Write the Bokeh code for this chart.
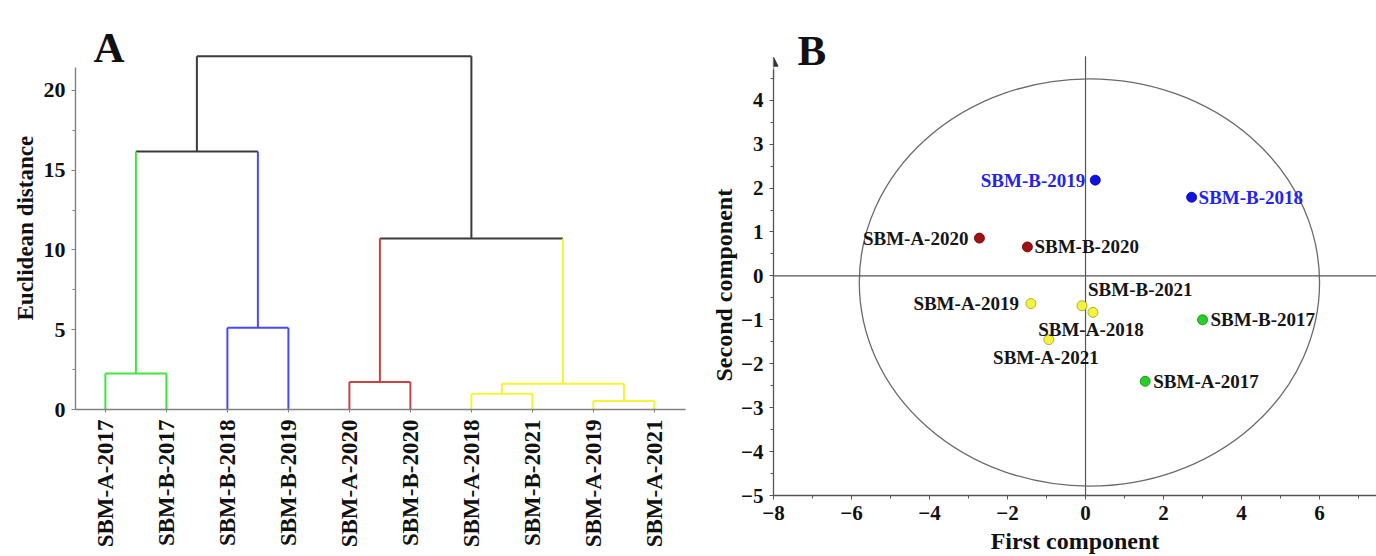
import numpy as np
from bokeh.plotting import figure
from bokeh.layouts import row
from bokeh.models import FixedTicker, Label, Span, Arrow, NormalHead, Range1d, Title
from bokeh.embed import file_html
from bokeh.resources import INLINE
from bokeh.core.properties import value

FONT = "Liberation Serif"

# ---------------- Panel A data (dendrogram) ----------------
leaf_names = ["SBM-A-2017", "SBM-B-2017", "SBM-B-2018", "SBM-B-2019", "SBM-A-2020",
              "SBM-B-2020", "SBM-A-2018", "SBM-B-2021", "SBM-A-2019", "SBM-A-2021"]
leaf_cluster = ["green", "green", "blue", "blue", "red", "red",
                "yellow", "yellow", "yellow", "yellow"]
# merges: node ids 0..9 are leaves, 10.. are merges in order
merge_left = [0, 2, 4, 6, 8, 13, 10, 12, 16]
merge_right = [1, 3, 5, 7, 9, 14, 11, 15, 17]
merge_height = [2.26, 5.12, 1.72, 0.99, 0.53, 1.62, 16.18, 10.72, 22.15]
dist_ticks = [0, 5, 10, 15, 20]

# ---------------- Panel B data (PCA scores) ----------------
pca_names = ["SBM-B-2019", "SBM-B-2018", "SBM-A-2020", "SBM-B-2020", "SBM-A-2019",
             "SBM-B-2021", "SBM-A-2018", "SBM-A-2021", "SBM-B-2017", "SBM-A-2017"]
pc1 = [0.25, 2.72, -2.72, -1.49, -1.40, -0.09, 0.19, -0.94, 3.00, 1.53]
pc2 = [2.18, 1.79, 0.86, 0.66, -0.63, -0.68, -0.83, -1.45, -1.00, -2.40]
pca_group = ["blue", "blue", "red", "red", "yellow", "yellow", "yellow", "yellow",
             "green", "green"]
ellipse_cx, ellipse_cy = 0.10, -0.15
ellipse_w, ellipse_h = 11.8, 9.27
pc1_ticks = [-8, -6, -4, -2, 0, 2, 4, 6]
pc2_ticks = [-5, -4, -3, -2, -1, 0, 1, 2, 3, 4]

# ---------------- styles ----------------
dendro_colors = {"green": "#3fe63f", "blue": "#4848ff", "red": "#c84444",
                 "yellow": "#f4f436", "black": "#3a3a3a"}
point_fill = {"blue": "#1010e8", "red": "#a01212", "yellow": "#f4f43c", "green": "#26d026"}
point_line = {"blue": "#0000a0", "red": "#600000", "yellow": "#9a9a20", "green": "#108010"}
label_color = {"blue": "#2323f0", "red": "#151515", "yellow": "#151515", "green": "#151515"}
# (align, x offset px, y offset px)
label_place = {
    "SBM-B-2019": ("right", -10, 0),
    "SBM-B-2018": ("left", 7, 0),
    "SBM-A-2020": ("right", -11, 0),
    "SBM-B-2020": ("left", 7, 0),
    "SBM-A-2019": ("right", -12, 0),
    "SBM-B-2021": ("left", 6, -16),
    "SBM-A-2018": ("center", -2, 17),
    "SBM-A-2021": ("center", -3, 18),
    "SBM-B-2017": ("left", 8, 0),
    "SBM-A-2017": ("left", 8, 0),
}

# ================= Panel A =================
pa = figure(width=690, height=556, output_backend="svg", toolbar_location=None,
            x_range=Range1d(-0.49, 9.51), y_range=Range1d(0, 25.64),
            min_border_left=75, min_border_right=5, min_border_top=0,
            min_border_bottom=147, frame_align=False)
pa.outline_line_color = None
pa.grid.visible = False
pa.background_fill_color = "white"
pa.border_fill_color = "white"

node_x = [float(i) for i in range(len(leaf_names))]
node_h = [0.0] * len(leaf_names)
node_c = list(leaf_cluster)
sx0, sy0, sx1, sy1, sc = [], [], [], [], []
for l, r, h in zip(merge_left, merge_right, merge_height):
    parent_c = node_c[l] if node_c[l] == node_c[r] else "black"
    xl, xr = node_x[l], node_x[r]
    sx0.append(xl); sy0.append(h); sx1.append(xr); sy1.append(h); sc.append(dendro_colors[parent_c])
    sx0.append(xl); sy0.append(node_h[l]); sx1.append(xl); sy1.append(h); sc.append(dendro_colors[node_c[l]])
    sx0.append(xr); sy0.append(node_h[r]); sx1.append(xr); sy1.append(h); sc.append(dendro_colors[node_c[r]])
    node_x.append((xl + xr) / 2)
    node_h.append(h)
    node_c.append(parent_c)

pa.segment(x0=sx0, y0=sy0, x1=sx1, y1=sy1, line_color=sc, line_width=2)

pa.xaxis.ticker = FixedTicker(ticks=list(range(len(leaf_names))))
pa.xaxis.major_label_overrides = {i: n for i, n in enumerate(leaf_names)}
pa.xaxis.major_label_orientation = np.pi / 2
pa.xaxis.major_label_text_font = FONT
pa.xaxis.major_label_text_font_style = "bold"
pa.xaxis.major_label_text_font_size = "23px"
pa.xaxis.major_label_text_color = "#111111"
pa.xaxis.major_label_standoff = 7
pa.xaxis.axis_line_color = "#808080"
pa.xaxis.axis_line_width = 1.6
pa.xaxis.major_tick_line_color = "#808080"
pa.xaxis.major_tick_in = 0
pa.xaxis.major_tick_out = 3
pa.xaxis.minor_tick_line_color = None

pa.yaxis.ticker = FixedTicker(ticks=dist_ticks, minor_ticks=[2.5, 7.5, 12.5, 17.5])
pa.yaxis.bounds = (0, 21.45)
pa.yaxis.major_label_text_font = FONT
pa.yaxis.major_label_text_font_style = "bold"
pa.yaxis.major_label_text_font_size = "22px"
pa.yaxis.major_label_text_color = "#111111"
pa.yaxis.major_label_standoff = 6
pa.yaxis.axis_line_color = "#808080"
pa.yaxis.axis_line_width = 1.4
pa.yaxis.major_tick_line_color = "#808080"
pa.yaxis.minor_tick_line_color = "#808080"
pa.yaxis.major_tick_in = 0
pa.yaxis.major_tick_out = 4
pa.yaxis.minor_tick_in = 0
pa.yaxis.minor_tick_out = 3

pa.add_layout(Title(text="Euclidean distance", align="left", offset=89,
                    vertical_align="bottom", standoff=5,
                    text_font=FONT, text_font_style="bold", text_font_size="23px",
                    text_color="#111111"), "left")
pa.add_layout(Label(x=18, y=362, x_units="screen", y_units="screen", text="A",
                    text_align="left", text_baseline="alphabetic",
                    text_font=FONT, text_font_style="bold", text_font_size="43px",
                    text_color="#111111"))

# ================= Panel B =================
pb = figure(width=686, height=556, output_backend="svg", toolbar_location=None,
            x_range=Range1d(-8, 7.46), y_range=Range1d(-5, 6.27),
            min_border_left=83, min_border_right=0, min_border_top=0,
            min_border_bottom=59, frame_align=False)
pb.outline_line_color = None
pb.grid.visible = False

pb.add_layout(Span(location=0, dimension="width", line_color="#555555", line_width=1.2))
pb.segment(x0=[0], y0=[pc2_ticks[0]], x1=[0], y1=[5.0], line_color="#555555", line_width=1.2)
pb.ellipse(x=[ellipse_cx], y=[ellipse_cy], width=[ellipse_w], height=[ellipse_h],
           fill_color=None, line_color="#6a6a6a", line_width=1.3)

pb.scatter(x=pc1, y=pc2, size=10,
           fill_color=[point_fill[g] for g in pca_group],
           line_color=[point_line[g] for g in pca_group], line_width=0.8)

for name, x, y, g in zip(pca_names, pc1, pc2, pca_group):
    align, dx, dy = label_place[name]
    pb.text(x=[x], y=[y], text=[name], x_offset=dx, y_offset=dy,
            text_align=align, text_baseline="middle",
            text_font=value(FONT), text_font_style="bold", text_font_size="19px",
            text_color=label_color[g])

pb.xaxis.ticker = FixedTicker(ticks=pc1_ticks, minor_ticks=[-7, -5, -3, -1, 1, 3, 5, 7])
pb.yaxis.ticker = FixedTicker(ticks=pc2_ticks,
                              minor_ticks=[v + 0.5 for v in pc2_ticks])
pb.yaxis.bounds = (-5, 4.7)
for ax in (pb.xaxis, pb.yaxis):
    ax.major_label_text_font = FONT
    ax.major_label_text_font_style = "bold"
    ax.major_label_text_font_size = "21px"
    ax.major_label_text_color = "#111111"
    ax.axis_line_color = "#555555"
    ax.axis_line_width = 1.3
    ax.major_tick_line_color = "#555555"
    ax.minor_tick_line_color = "#555555"
    ax.major_tick_in = 0
    ax.major_tick_out = 4
    ax.minor_tick_in = 0
    ax.minor_tick_out = 3
pb.xaxis.major_label_standoff = 6
pb.yaxis.major_label_standoff = 6
pb.xaxis.axis_label = "First component"
pb.xaxis.axis_label_text_font = FONT
pb.xaxis.axis_label_text_font_style = "bold"
pb.xaxis.axis_label_text_font_size = "24px"
pb.xaxis.axis_label_text_color = "#111111"
pb.xaxis.axis_label_standoff = 5

pb.add_layout(Arrow(end=NormalHead(size=9, fill_color="#333333", line_color="#333333"),
                    x_start=-8, y_start=4.5, x_end=-8, y_end=4.98,
                    line_color="#555555", line_width=1.3))

pb.add_layout(Title(text="Second component", align="left", offset=114,
                    vertical_align="bottom", standoff=4,
                    text_font=FONT, text_font_style="bold", text_font_size="24px",
                    text_color="#111111"), "left")
pb.add_layout(Label(x=24, y=445, x_units="screen", y_units="screen", text="B",
                    text_align="left", text_baseline="alphabetic",
                    text_font=FONT, text_font_style="bold", text_font_size="43px",
                    text_color="#111111"))

layout = row(pa, pb)
open("out.html", "w").write(file_html(layout, INLINE))
